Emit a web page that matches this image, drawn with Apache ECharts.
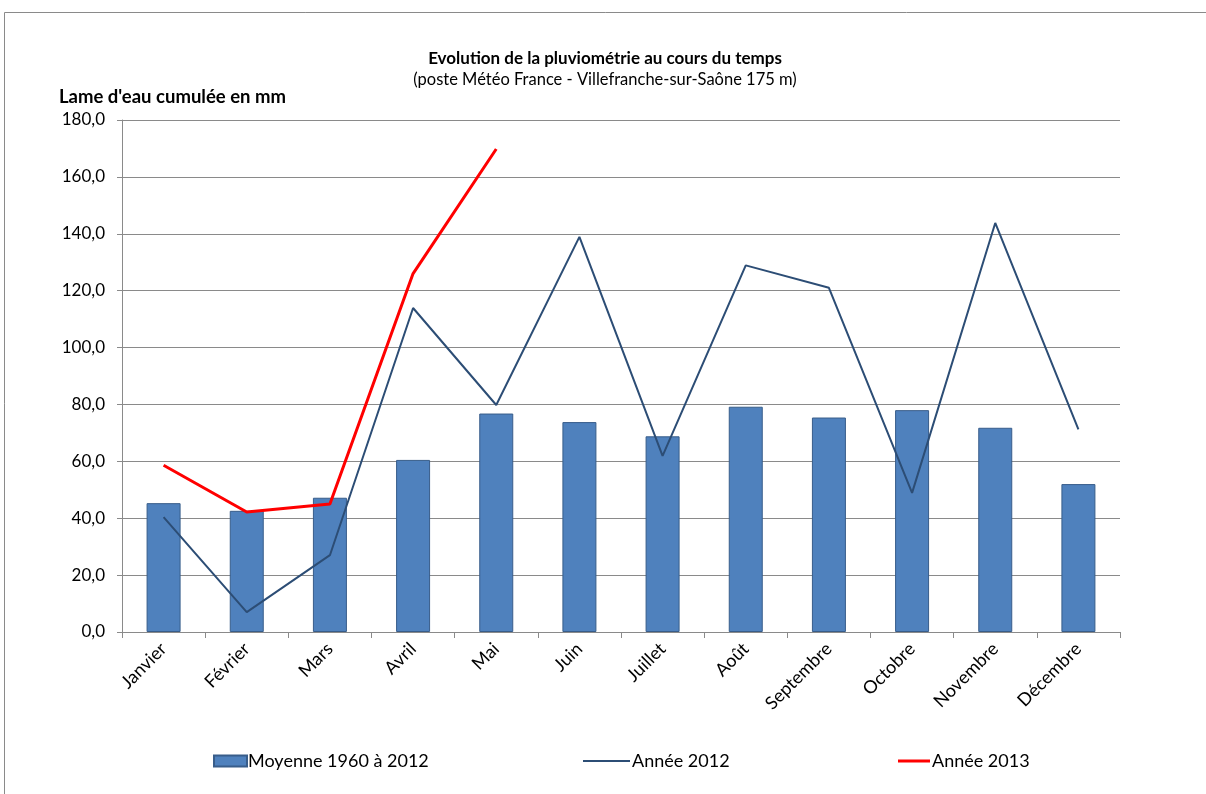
<!DOCTYPE html>
<html><head><meta charset="utf-8">
<script src="https://cdn.jsdelivr.net/npm/echarts@6/dist/echarts.min.js"></script>
<style>html,body{margin:0;padding:0;background:#fff}#c{width:1206px;height:794px}</style>
</head><body><div id="c"></div>
<script>
const categories = ['Janvier','Février','Mars','Avril','Mai','Juin','Juillet','Août','Septembre','Octobre','Novembre','Décembre'];
const moyenne = [45.3, 42.6, 47.2, 60.5, 76.8, 73.8, 68.8, 79.2, 75.4, 78.0, 71.8, 52.0];
const annee2012 = [40.4, 7.0, 27.0, 113.9, 79.8, 138.9, 61.9, 128.9, 121.0, 48.9, 143.8, 71.2];
const annee2013 = [58.6, 42.2, 45.0, 126.0, 169.8];
const yTicks = {min: 0, max: 180, interval: 20};

const font = 'Lato, "Open Sans", sans-serif';
const chart = echarts.init(document.getElementById('c'));
chart.setOption({
  backgroundColor: '#fff',
  animation: false,
  graphic: [{type: 'rect', shape: {x: 4.5, y: 12.5, width: 1400, height: 1000}, style: {fill: 'none', stroke: '#8a8a8a', lineWidth: 1}}],
  title: [
    {text: 'Evolution de la pluviométrie au cours du temps', left: 600, top: 45, textAlign: 'center',
     textStyle: {fontFamily: font, fontSize: 17, fontWeight: 'bold', color: '#000'}},
    {text: '(poste Météo France - Villefranche-sur-Saône 175 m)', left: 600, top: 66, textAlign: 'center',
     textStyle: {fontFamily: font, fontSize: 16.5, fontWeight: 'normal', color: '#000'}},
    {text: "Lame d'eau cumulée en mm", left: 54, top: 83,
     textStyle: {fontFamily: font, fontSize: 18.5, fontWeight: 'bold', color: '#000'}}
  ],
  legend: [
    {data: [{name: 'Moyenne 1960 à 2012', icon: 'rect'}], left: 208, top: 747, itemWidth: 33, itemHeight: 11, itemGap: 2,
     textStyle: {fontFamily: font, fontSize: 18, color: '#000', padding: [0,0,0,-4]}},
    {data: [{name: 'Année 2012', icon: 'rect', itemStyle: {color: '#2C4D75'}}], left: 578, top: 747, itemWidth: 47, itemHeight: 2,
     textStyle: {fontFamily: font, fontSize: 18, color: '#000', padding: [0,0,0,-3]}},
    {data: [{name: 'Année 2013', icon: 'rect', itemStyle: {color: '#FF0000'}}], left: 893, top: 747, itemWidth: 32, itemHeight: 3,
     textStyle: {fontFamily: font, fontSize: 18, color: '#000', padding: [0,0,0,-3]}}
  ],
  grid: {left: 122, right: 86, top: 120, bottom: 162, containLabel: false},
  xAxis: {
    type: 'category', data: categories, boundaryGap: true,
    axisLine: {show: true, lineStyle: {color: '#8a8a8a', width: 1}},
    axisTick: {show: true, alignWithLabel: false, length: 6, lineStyle: {color: '#8a8a8a'}},
    axisLabel: {rotate: 45, interval: 0, margin: 14, fontFamily: font, fontSize: 18, color: '#000'}
  },
  yAxis: {
    type: 'value', min: yTicks.min, max: yTicks.max, interval: yTicks.interval,
    axisLine: {show: true, lineStyle: {color: '#8a8a8a', width: 1}},
    axisTick: {show: true, inside: false, length: 5, lineStyle: {color: '#8a8a8a'}},
    splitLine: {show: true, lineStyle: {color: '#8a8a8a', width: 1}},
    axisLabel: {margin: 17, fontFamily: font, fontSize: 17, color: '#000',
      formatter: v => v.toFixed(1).replace('.', ',')}
  },
  series: [
    {name: 'Moyenne 1960 à 2012', type: 'bar', data: moyenne, barWidth: 34,
     itemStyle: {color: '#4F81BD', borderColor: '#385D8A', borderWidth: 1}},
    {name: 'Année 2012', type: 'line', data: annee2012, symbol: 'none',
     lineStyle: {color: '#2C4D75', width: 2}, itemStyle: {color: '#2C4D75'}},
    {name: 'Année 2013', type: 'line', data: annee2013, symbol: 'none',
     lineStyle: {color: '#FF0000', width: 3}, itemStyle: {color: '#FF0000'}}
  ]
});
</script></body></html>
